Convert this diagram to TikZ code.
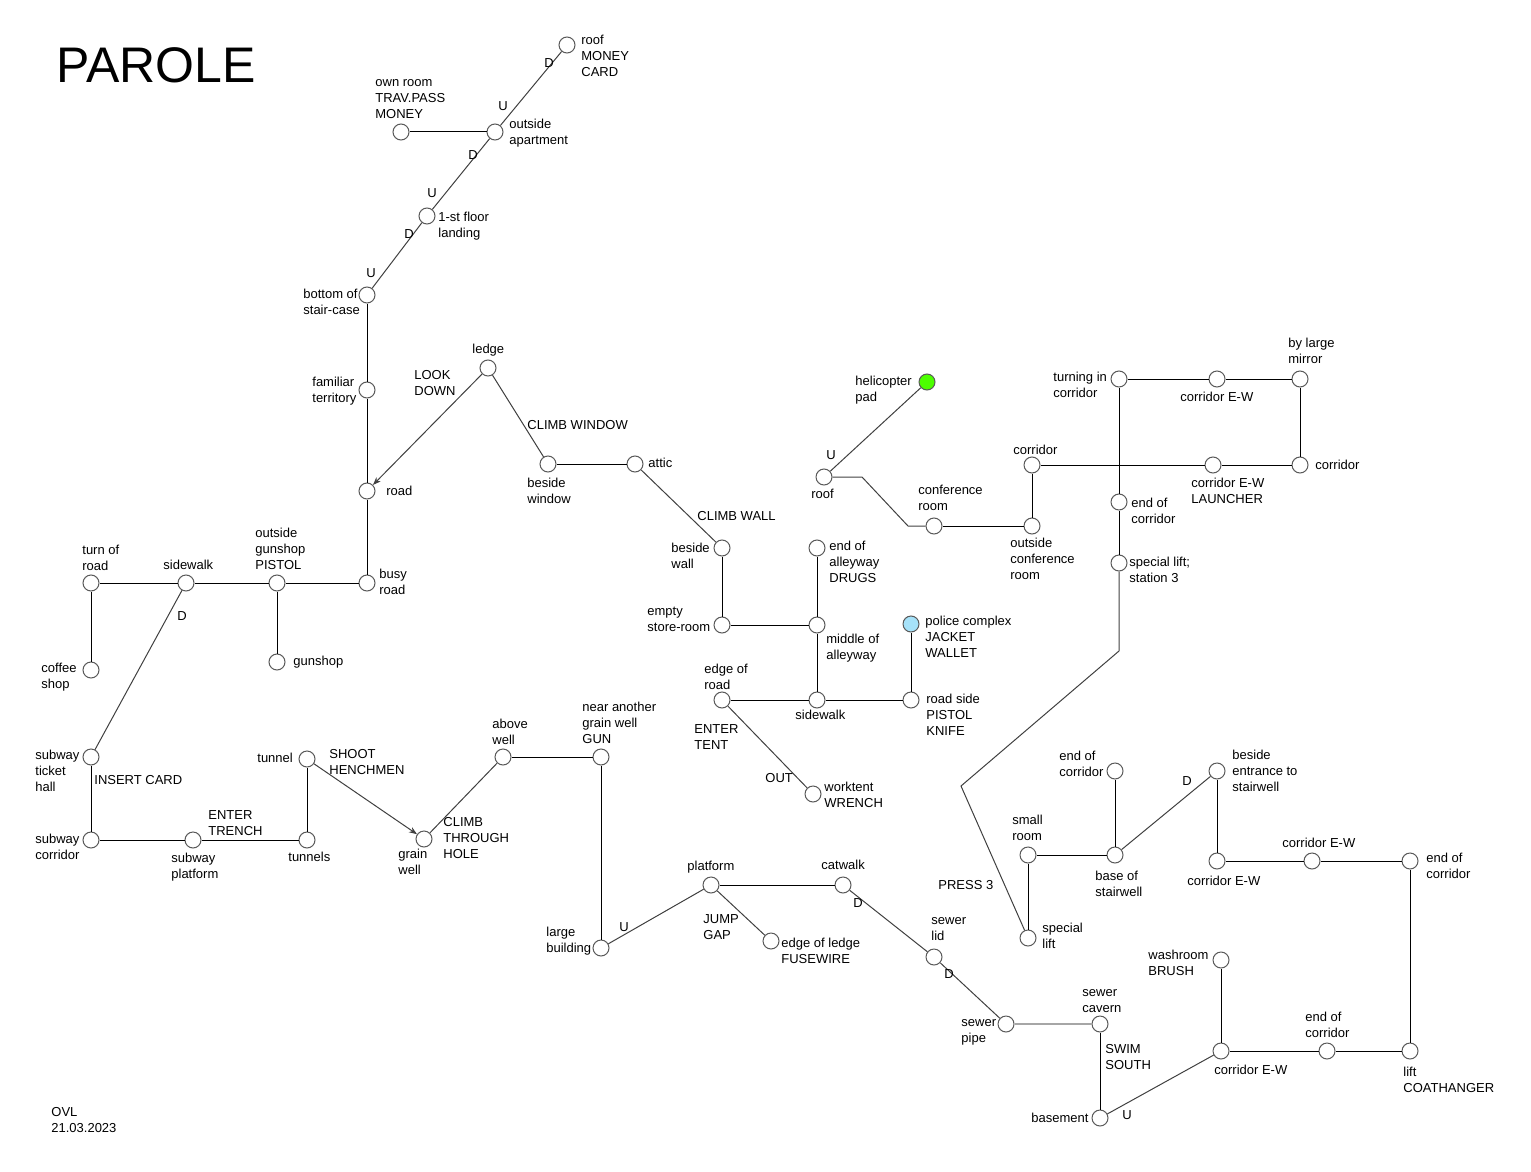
\documentclass[tikz,border=0pt]{standalone}
\usepackage{fontspec}
\setmainfont{Liberation Sans}
\usetikzlibrary{arrows.meta}
\newcommand{\mlines}[1]{\begin{tabular}[t]{@{}l@{}}#1\end{tabular}}
\tikzset{
  x=0.5pt, y=-0.5pt,
  place/.style={circle, draw=black!65, line width=0.5pt, fill=white, minimum size=8pt, inner sep=0pt},
  heli/.style={place, fill=green!70!yellow},
  police/.style={place, fill=cyan!35},
  lbl/.style={anchor=base west, inner sep=0pt, font=\fontsize{6.5}{8}\selectfont, text=black},
  conn/.style={draw=black, line width=0.5pt},
  diag/.style={draw=black!75, line width=0.5pt},
  oneway/.style={diag, -{Stealth[length=4pt,width=3pt]}},
  water/.style={draw=black!35, line width=1pt},
}
\newcommand{\lb}[3]{\node[lbl] at (#1,#2+5) {\mlines{#3}};}
\begin{document}
\begin{tikzpicture}
\useasboundingbox (0,0) rectangle (1531,1172);

% title and footer
\node[anchor=base west, inner sep=0pt, font=\fontsize{25}{29}\selectfont] (title) at (56,83) {PAROLE};
\node[lbl] (footer) at (51,1116) {\mlines{OVL\\21.03.2023}};

% ---------- nodes ----------
\node[place] (rooftop) at (567,45) {};
\node[place] (ownroom) at (401,132) {};
\node[place] (outapt) at (495,132) {};
\node[place] (landing) at (427,216) {};
\node[place] (bottom) at (367,295) {};
\node[place] (familiar) at (367,390) {};
\node[place] (road) at (367,491) {};
\node[place] (busy) at (367,583) {};
\node[place] (outgun) at (277,583) {};
\node[place] (gunshop) at (277,662) {};
\node[place] (side1) at (186,583) {};
\node[place] (turn) at (91,583) {};
\node[place] (coffee) at (91,670) {};
\node[place] (ticket) at (91,757) {};
\node[place] (subcorr) at (91,840) {};
\node[place] (subplat) at (193,840) {};
\node[place] (tunnels) at (307,840) {};
\node[place] (tunnel) at (307,759) {};
\node[place] (grain) at (424,839) {};
\node[place] (above) at (503,757) {};
\node[place] (near) at (601,757) {};
\node[place] (large) at (601,948) {};
\node[place] (platform) at (711,885) {};
\node[place] (catwalk) at (843,885) {};
\node[place] (ledgeedge) at (771,941) {};
\node[place] (sewerlid) at (934,957) {};
\node[place] (sewerpipe) at (1006,1024) {};
\node[place] (cavern) at (1100,1024) {};
\node[place] (basement) at (1100,1118) {};
\node[place] (ewbot) at (1221,1051) {};
\node[place] (washroom) at (1221,960) {};
\node[place] (endb) at (1327,1051) {};
\node[place] (lift) at (1410,1051) {};
\node[place] (endr) at (1410,861) {};
\node[place] (ew2) at (1312,861) {};
\node[place] (ew3) at (1217,861) {};
\node[place] (entrance) at (1217,771) {};
\node[place] (basest) at (1115,855) {};
\node[place] (endm) at (1115,771) {};
\node[place] (small) at (1028,855) {};
\node[place] (speclift) at (1028,938) {};
\node[place] (station) at (1119,563) {};
\node[place] (endt) at (1119,502) {};
\node[place] (turning) at (1119,379) {};
\node[place] (ewtop) at (1217,379) {};
\node[place] (mirror) at (1300,379) {};
\node[place] (corrr) at (1300,465) {};
\node[place] (launcher) at (1213,465) {};
\node[place] (corridor) at (1032,465) {};
\node[place] (outconf) at (1032,526) {};
\node[place] (conf) at (934,526) {};
\node[place] (roof) at (824,477) {};
\node[heli] (pad) at (927,382) {};
\node[police] (police) at (911,624) {};
\node[place] (roadside) at (911,700) {};
\node[place] (side2) at (817,700) {};
\node[place] (edgeroad) at (722,700) {};
\node[place] (worktent) at (813,794) {};
\node[place] (middle) at (817,625) {};
\node[place] (endalley) at (817,548) {};
\node[place] (store) at (722,625) {};
\node[place] (wall) at (722,548) {};
\node[place] (attic) at (635,464) {};
\node[place] (window) at (548,464) {};
\node[place] (ledge) at (488,368) {};

\coordinate (rbend1) at (862,477);
\coordinate (rbend2) at (908,526);
\coordinate (pbend1) at (961,786);
\coordinate (pbend2) at (1119,651);

% ---------- connectors ----------
\draw[diag] (rooftop) -- (outapt);
\draw[conn] (ownroom) -- (outapt);
\draw[diag] (outapt) -- (landing);
\draw[diag] (landing) -- (bottom);
\draw[conn] (bottom) -- (familiar);
\draw[conn] (familiar) -- (road);
\draw[conn] (road) -- (busy);
\draw[oneway] (ledge) -- (road);
\draw[diag] (ledge) -- (window);
\draw[conn] (window) -- (attic);
\draw[diag] (attic) -- (wall);
\draw[conn] (wall) -- (store);
\draw[conn] (store) -- (middle);
\draw[conn] (endalley) -- (middle);
\draw[conn] (middle) -- (side2);
\draw[conn] (edgeroad) -- (side2);
\draw[conn] (side2) -- (roadside);
\draw[conn] (roadside) -- (police);
\draw[diag] (edgeroad) -- (worktent);
\draw[conn] (busy) -- (outgun);
\draw[conn] (outgun) -- (side1);
\draw[conn] (side1) -- (turn);
\draw[conn] (outgun) -- (gunshop);
\draw[conn] (turn) -- (coffee);
\draw[diag] (side1) -- (ticket);
\draw[conn] (ticket) -- (subcorr);
\draw[conn] (subcorr) -- (subplat);
\draw[conn] (subplat) -- (tunnels);
\draw[conn] (tunnels) -- (tunnel);
\draw[oneway] (tunnel) -- (grain);
\draw[diag] (grain) -- (above);
\draw[conn] (above) -- (near);
\draw[conn] (near) -- (large);
\draw[diag] (large) -- (platform);
\draw[conn] (platform) -- (catwalk);
\draw[diag] (platform) -- (ledgeedge);
\draw[diag] (catwalk) -- (sewerlid);
\draw[diag] (sewerlid) -- (sewerpipe);
\draw[water] (sewerpipe) -- (cavern);
\draw[conn] (cavern) -- (basement);
\draw[diag] (basement) -- (ewbot);
\draw[conn] (ewbot) -- (washroom);
\draw[conn] (ewbot) -- (endb);
\draw[conn] (endb) -- (lift);
\draw[conn] (lift) -- (endr);
\draw[conn] (endr) -- (ew2);
\draw[conn] (ew2) -- (ew3);
\draw[conn] (ew3) -- (entrance);
\draw[diag] (entrance) -- (basest);
\draw[conn] (basest) -- (endm);
\draw[conn] (basest) -- (small);
\draw[conn] (small) -- (speclift);
\draw[diag] (speclift) -- (pbend1) -- (pbend2) -- (station);
\draw[conn] (station) -- (endt);
\draw[conn] (endt) -- (turning);
\draw[conn] (turning) -- (ewtop);
\draw[conn] (ewtop) -- (mirror);
\draw[conn] (mirror) -- (corrr);
\draw[conn] (corrr) -- (launcher);
\draw[conn] (launcher) -- (corridor);
\draw[conn] (corridor) -- (outconf);
\draw[conn] (outconf) -- (conf);
\draw[diag] (conf) -- (rbend2) -- (rbend1) -- (roof);
\draw[diag] (roof) -- (pad);

% ---------- labels ----------
\lb{581}{40}{roof\\MONEY\\CARD}
\lb{375}{82}{own room\\TRAV.PASS\\MONEY}
\lb{509}{123}{outside\\apartment}
\lb{438}{216}{1-st floor\\landing}
\lb{303}{293}{bottom of\\stair-case}
\lb{312}{381}{familiar\\territory}
\lb{386}{490}{road}
\lb{472}{348}{ledge}
\lb{414}{374}{LOOK\\DOWN}
\lb{527}{424}{CLIMB WINDOW}
\lb{527}{482}{beside\\window}
\lb{648}{462}{attic}
\lb{697}{515}{CLIMB WALL}
\lb{671}{547}{beside\\wall}
\lb{647}{610}{empty\\store-room}
\lb{829}{545}{end of\\alleyway\\DRUGS}
\lb{826}{638}{middle of\\alleyway}
\lb{925}{620}{police complex\\JACKET\\WALLET}
\lb{926}{698}{road side\\PISTOL\\KNIFE}
\lb{795}{714}{sidewalk}
\lb{704}{668}{edge of\\road}
\lb{694}{728}{ENTER\\TENT}
\lb{765}{777}{OUT}
\lb{824}{786}{worktent\\WRENCH}
\lb{379}{573}{busy\\road}
\lb{255}{532}{outside\\gunshop\\PISTOL}
\lb{293}{660}{gunshop}
\lb{163}{564}{sidewalk}
\lb{82}{549}{turn of\\road}
\lb{177}{615}{D}
\lb{41}{667}{coffee\\shop}
\lb{35}{754}{subway\\ticket\\hall}
\lb{94}{779}{INSERT CARD}
\lb{35}{838}{subway\\corridor}
\lb{171}{857}{subway\\platform}
\lb{208}{814}{ENTER\\TRENCH}
\lb{288}{856}{tunnels}
\lb{257}{757}{tunnel}
\lb{329}{753}{SHOOT\\HENCHMEN}
\lb{398}{853}{grain\\well}
\lb{443}{821}{CLIMB\\THROUGH\\HOLE}
\lb{492}{723}{above\\well}
\lb{582}{706}{near another\\grain well\\GUN}
\lb{546}{931}{large\\building}
\lb{619}{926}{U}
\lb{687}{865}{platform}
\lb{703}{918}{JUMP\\GAP}
\lb{781}{942}{edge of ledge\\FUSEWIRE}
\lb{821}{864}{catwalk}
\lb{853}{902}{D}
\lb{931}{919}{sewer\\lid}
\lb{944}{973}{D}
\lb{961}{1021}{sewer\\pipe}
\lb{1082}{991}{sewer\\cavern}
\lb{1105}{1048}{SWIM\\SOUTH}
\lb{1031}{1117}{basement}
\lb{1122}{1114}{U}
\lb{1148}{954}{washroom\\BRUSH}
\lb{1214}{1069}{corridor E-W}
\lb{1305}{1016}{end of\\corridor}
\lb{1403}{1071}{lift\\COATHANGER}
\lb{1426}{857}{end of\\corridor}
\lb{1282}{842}{corridor E-W}
\lb{1187}{880}{corridor E-W}
\lb{1232}{754}{beside\\entrance to\\stairwell}
\lb{1182}{780}{D}
\lb{1059}{755}{end of\\corridor}
\lb{1012}{819}{small\\room}
\lb{1095}{875}{base of\\stairwell}
\lb{938}{884}{PRESS 3}
\lb{1042}{927}{special\\lift}
\lb{1129}{561}{special lift;\\station 3}
\lb{1131}{502}{end of\\corridor}
\lb{1053}{376}{turning in\\corridor}
\lb{1180}{396}{corridor E-W}
\lb{1288}{342}{by large\\mirror}
\lb{1315}{464}{corridor}
\lb{1191}{482}{corridor E-W\\LAUNCHER}
\lb{1013}{449}{corridor}
\lb{1010}{542}{outside\\conference\\room}
\lb{918}{489}{conference\\room}
\lb{811}{493}{roof}
\lb{826}{454}{U}
\lb{855}{380}{helicopter\\pad}
\lb{544}{63}{D}
\lb{498}{106}{U}
\lb{468}{154}{D}
\lb{427}{193}{U}
\lb{404}{233}{D}
\lb{366}{272}{U}
\end{tikzpicture}
\end{document}
